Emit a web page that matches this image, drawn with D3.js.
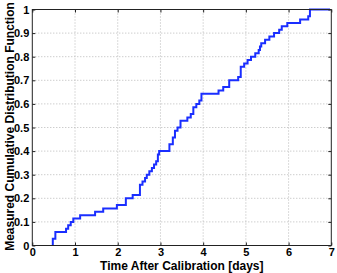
<!DOCTYPE html>
<html>
<head>
<meta charset="utf-8">
<script src="https://cdn.jsdelivr.net/npm/d3@7"></script>
<style>
  body { margin: 0; background: #fff; }
  svg { display: block; font-family: "Liberation Sans", Arial, Helvetica, sans-serif; }
</style>
</head>
<body>
<svg id="cdf_chart" width="337" height="273"></svg>
<script>

// sorted observation times in days (read from the step positions, repeats = taller steps)
var times = [
    0.48, 0.54, 0.54, 0.79, 0.84, 0.90, 0.96, 1.12, 1.47, 1.66,
    1.98, 2.19, 2.19, 2.35, 2.52, 2.52, 2.52, 2.58, 2.64, 2.68,
    2.74, 2.80, 2.85, 2.90, 2.94, 2.94, 2.97, 3.21, 3.21, 3.29,
    3.29, 3.34, 3.34, 3.40, 3.47, 3.47, 3.63, 3.71, 3.77, 3.77,
    3.84, 3.91, 3.96, 3.96, 4.36, 4.47, 4.61, 4.61, 4.82, 4.88,
    4.88, 4.88, 4.96, 5.04, 5.12, 5.22, 5.30, 5.33, 5.36, 5.45,
    5.55, 5.66, 5.78, 5.84, 5.97, 6.27, 6.46, 6.50, 6.50, 6.97
];

// tick values
var xTicks = [0, 1, 2, 3, 4, 5, 6, 7];
var yTicks = [0, 0.1, 0.2, 0.3, 0.4, 0.5, 0.6, 0.7, 0.8, 0.9, 1];

var xLabel = "Time After Calibration [days]";
var yLabel = "Measured Cumulative Distribution Function";

function drawCdf(){

    var svg = d3.select("#cdf_chart"),
    width = +svg.attr("width"),
    height = +svg.attr("height");

    var margin = {top: 9.5, right: 5.7, bottom: 27.5, left: 32.3};

    var x = d3.scaleLinear()
        .domain([0, 7])
        .range([margin.left, width - margin.right]);

    var y = d3.scaleLinear()
        .domain([0, 1])
        .range([height - margin.bottom, margin.top]);

    var n = times.length;

    //empirical cdf as points: start at zero, one step per observation
    var pts = [[times[0], 0]];
    times.forEach(function(t, i){
        pts.push([t, (i + 1) / n]);
    });

    //dotted grid
    svg.append("g")
        .selectAll("line")
        .data(xTicks.slice(1, -1))
        .enter()
        .append("line")
        .attr("x1", function(d){ return x(d); })
        .attr("x2", function(d){ return x(d); })
        .attr("y1", y(0))
        .attr("y2", y(1))
        .attr("stroke", "#b8b8b8")
        .attr("stroke-width", 1)
        .attr("stroke-dasharray", "1,2");

    svg.append("g")
        .selectAll("line")
        .data(yTicks.slice(1, -1))
        .enter()
        .append("line")
        .attr("x1", x(0))
        .attr("x2", x(7))
        .attr("y1", function(d){ return y(d); })
        .attr("y2", function(d){ return y(d); })
        .attr("stroke", "#b8b8b8")
        .attr("stroke-width", 1)
        .attr("stroke-dasharray", "1,2");

    //the step line
    var line = d3.line()
        .x(function(d){ return x(d[0]); })
        .y(function(d){ return y(d[1]); })
        .curve(d3.curveStepBefore);

    svg.append("path")
        .datum(pts)
        .attr("d", line)
        .attr("fill", "none")
        .attr("stroke", "#1a2eff")
        .attr("stroke-width", 2);

    //axes with inside ticks, mirrored on top and right (matlab box)
    var axisStyle = function(g){
        g.select(".domain").remove();
        g.selectAll(".tick line").attr("stroke", "#222");
        g.selectAll(".tick text")
            .attr("font-size", 11)
            .attr("font-weight", "bold")
            .attr("fill", "#000");
    };

    svg.append("g")
        .attr("transform", "translate(0," + y(0) + ")")
        .call(d3.axisBottom(x).tickValues(xTicks).tickSizeInner(-3).tickSizeOuter(0).tickPadding(2.5).tickFormat(d3.format("d")))
        .call(axisStyle);

    svg.append("g")
        .attr("transform", "translate(0," + y(1) + ")")
        .call(d3.axisTop(x).tickValues(xTicks).tickSizeInner(-3).tickSizeOuter(0).tickFormat(""))
        .call(axisStyle);

    svg.append("g")
        .attr("transform", "translate(" + x(0) + ",0)")
        .call(d3.axisLeft(y).tickValues(yTicks).tickSizeInner(-3).tickSizeOuter(0).tickPadding(3).tickFormat(function(d){ return d3.format("")(+d.toFixed(1)); }))
        .call(axisStyle);

    svg.append("g")
        .attr("transform", "translate(" + x(7) + ",0)")
        .call(d3.axisRight(y).tickValues(yTicks).tickSizeInner(-3).tickSizeOuter(0).tickFormat(""))
        .call(axisStyle);

    //box
    svg.append("rect")
        .attr("x", x(0))
        .attr("y", y(1))
        .attr("width", x(7) - x(0))
        .attr("height", y(0) - y(1))
        .attr("fill", "none")
        .attr("stroke", "#222")
        .attr("stroke-width", 1);

    //axis titles
    svg.append("text")
        .attr("x", (x(0) + x(7)) / 2)
        .attr("y", 270)
        .attr("text-anchor", "middle")
        .attr("font-size", 12)
        .attr("font-weight", "bold")
        .text(xLabel);

    svg.append("text")
        .attr("transform", "translate(13.5," + ((y(0) + y(1)) / 2 - 1) + ") rotate(-90)")
        .attr("text-anchor", "middle")
        .attr("font-size", 12)
        .attr("font-weight", "bold")
        .text(yLabel);
}

drawCdf();
</script>
</body>
</html>
